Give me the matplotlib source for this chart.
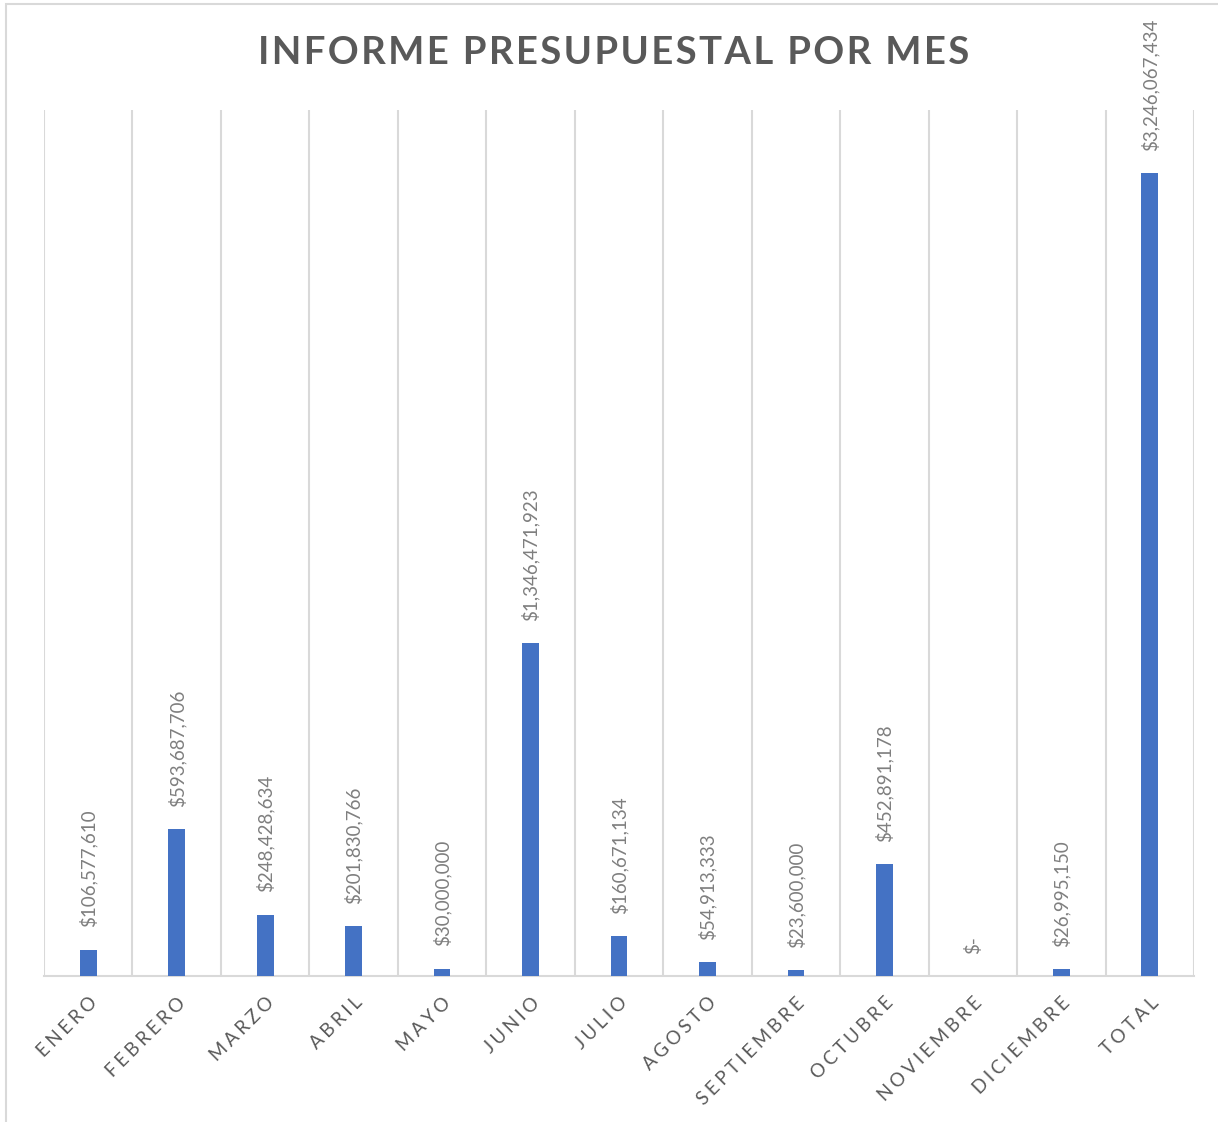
import matplotlib.pyplot as plt
import matplotlib.patches as patches

plt.rcParams['font.family'] = ['Lato', 'DejaVu Sans']

meses = ['ENERO', 'FEBRERO', 'MARZO', 'ABRIL', 'MAYO', 'JUNIO', 'JULIO',
         'AGOSTO', 'SEPTIEMBRE', 'OCTUBRE', 'NOVIEMBRE', 'DICIEMBRE', 'TOTAL']
valores = [106577610, 593687706, 248428634, 201830766, 30000000, 1346471923,
           160671134, 54913333, 23600000, 452891178, 0, 26995150, 3246067434]

def spaced(s, sep='\u2009'):
    return sep.join(s)

def money(v):
    return '$-' if v == 0 else '${:,.0f}'.format(v)

fig = plt.figure(figsize=(12.18, 11.22), dpi=100)
ax = fig.add_axes([44/1218, 1 - 976/1122, (1194-44)/1218, (976-110)/1122])

# chart border
fig.patches.append(patches.Rectangle((6/1218, -0.01), 1.02, 1 - 4/1122 + 0.01,
                                     transform=fig.transFigure, fill=False,
                                     edgecolor='#d9d9d9', lw=1.5))

x = range(len(meses))
ax.bar(x, valores, width=0.19, color='#4472C4', zorder=3)

for i, v in zip(x, valores):
    ax.annotate(money(v), (i, v), xytext=(0, 16), textcoords='offset points',
                rotation=90, ha='center', va='bottom', fontsize=13.5,
                color='#7f7f7f')

for b in range(len(meses) + 1):
    ax.axvline(b - 0.5, color='#d9d9d9', lw=1.5, zorder=1)

ax.set_xlim(-0.5, len(meses) - 0.5)
ax.set_ylim(0, 3.5e9)
ax.set_yticks([])
ax.set_xticks(list(x))
ax.set_xticklabels([spaced(m, '\u2009\u200a') for m in meses], rotation=45,
                   ha='right', rotation_mode='anchor', fontsize=13.5,
                   color='#595959')
ax.tick_params(axis='x', length=0, pad=13)
for s in ['left', 'right', 'top']:
    ax.spines[s].set_visible(False)
ax.spines['bottom'].set_color('#d9d9d9')
ax.spines['bottom'].set_linewidth(1.5)

fig.text(614/1218, 1 - 53/1122, spaced('INFORME PRESUPUESTAL POR MES', '\u200a'),
         ha='center', va='center', fontsize=27.5, fontweight='bold',
         color='#595959')

plt.savefig('out.png', dpi=100)
